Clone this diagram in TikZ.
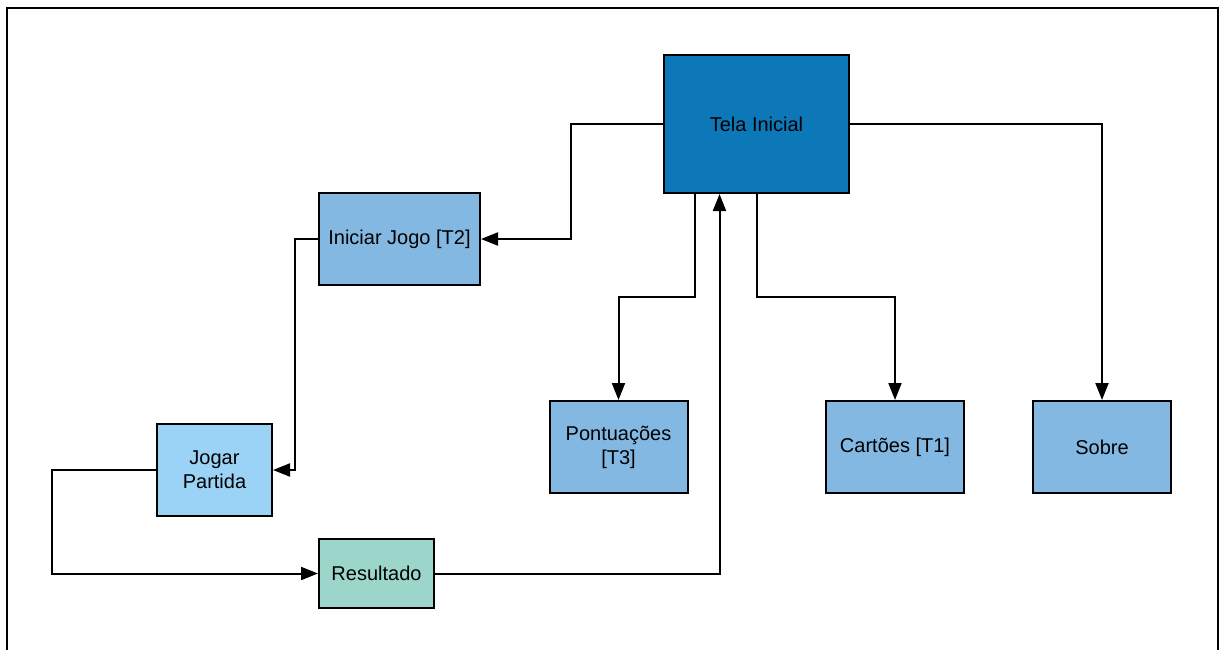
\documentclass[tikz,border=0pt]{standalone}
\usepackage{fontspec}
\setmainfont{Liberation Sans}
\usetikzlibrary{arrows.meta, positioning, calc}
\definecolor{telablue}{HTML}{0C78B8}
\definecolor{midblue}{HTML}{83B8E3}
\definecolor{lightblue}{HTML}{9AD3F5}
\definecolor{resgreen}{HTML}{9CD6CB}

\tikzset{
  screen/.style={draw=black, line width=1pt, font=\fontsize{10pt}{12pt}\selectfont,
    align=center, inner sep=0pt},
  link/.style={-{Triangle[length=8.5pt,width=6.5pt]}, line width=1pt}
}

\begin{document}
\begin{tikzpicture}[x=0.5pt, y=-0.5pt]
  \useasboundingbox (0,0) rectangle (1220,649);
  \begin{scope}
    \clip (0,0) rectangle (1220,649);
    \draw[line width=1.2pt] (7,8) rectangle (1218,700);
  \end{scope}

  % Screens
  \node[screen, fill=telablue, minimum width=92.5pt, minimum height=69pt]
    (tela) at (756.5,124) {Tela Inicial};
  \node[screen, fill=midblue, minimum width=80.5pt, minimum height=46pt]
    (iniciar) at (399.5,239) {Iniciar Jogo [T2]};
  \node[screen, fill=lightblue, minimum width=57.5pt, minimum height=46pt]
    (jogar) at (214.5,470) {Jogar\\Partida};
  \node[screen, fill=resgreen, minimum width=57.5pt, minimum height=34.5pt]
    (result) at (376.5,573.5) {Resultado};
  \node[screen, fill=midblue, minimum width=69pt, minimum height=46pt]
    (pont) at (618.5,447) {Pontuações\\{[T3]}};
  \node[screen, fill=midblue, minimum width=69pt, minimum height=46pt]
    (cartoes) at (895,447) {Cartões [T1]};
  \node[screen, fill=midblue, minimum width=69pt, minimum height=46pt]
    (sobre) at (1102,447) {Sobre};

  % Navigation
  \draw[link] (tela.west) -- ++(-92,0) |- (iniciar.east);
  \draw[link] (iniciar.west) -- ++(-23,0) |- (jogar.east);
  \draw[link] (jogar.west) -- ++(-104,0) |- (result.west);
  \draw[link] (result.east) -| ($(tela.south)+(-37,0)$);
  \draw[link] ($(tela.south)+(-62,0)$) -- ++(0,103) -| (pont.north);
  \draw[link] (tela.south) -- ++(0,103) -| (cartoes.north);
  \draw[link] (tela.east) -| (sobre.north);
\end{tikzpicture}
\end{document}
